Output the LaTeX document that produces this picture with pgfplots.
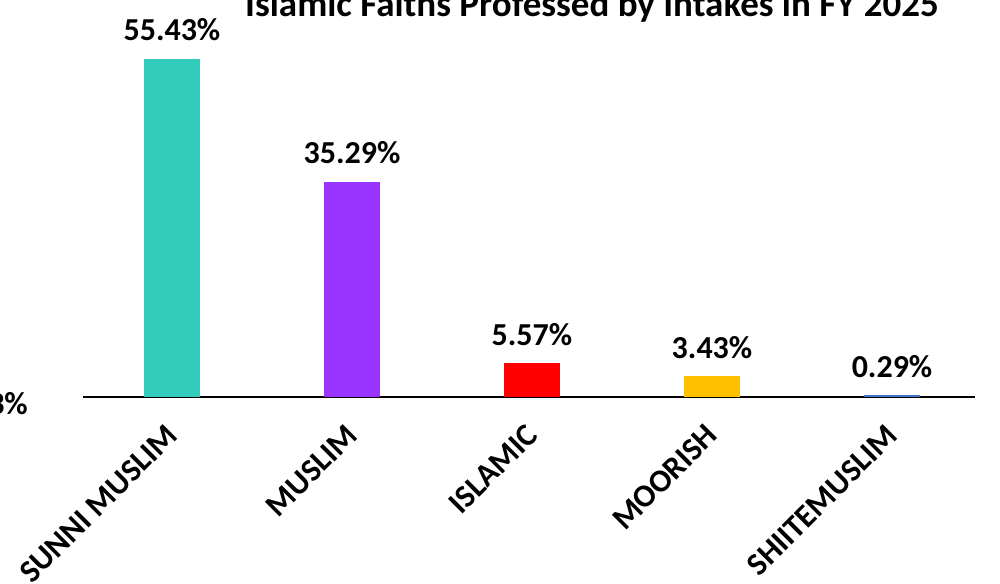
\documentclass[border=0pt]{standalone}
\usepackage{pgfplots}
\pgfplotsset{compat=1.18}
\usepackage{fontspec}
\setmainfont{Carlito}
\definecolor{cteal}{HTML}{33CCBB}
\definecolor{cpurple}{HTML}{9933FF}
\definecolor{cred}{HTML}{FF0000}
\definecolor{cgold}{HTML}{FFC000}
\definecolor{cblue}{HTML}{4472C4}
\begin{document}
\begin{tikzpicture}
\useasboundingbox (0,0) rectangle (1000pt,583pt);
\clip (0,0) rectangle (1000pt,583pt);
\begin{axis}[
  at={(83pt,186pt)}, anchor=south west,
  scale only axis, width=892pt, height=365.9pt,
  xmin=-0.494, xmax=4.461, ymin=0, ymax=60,
  axis x line*=bottom, axis y line=none,
  x axis line style={line width=1.8pt, black, -},
  xtick={0,1,2,3,4},
  xticklabels={SUNNI MUSLIM, MUSLIM, ISLAMIC, MOORISH, SHIITEMUSLIM},
  major tick length=0pt,
  xticklabel style={xshift=0pt, yshift=-33pt, rotate=45, anchor=east, inner sep=0pt,
    font=\bfseries\fontsize{32}{34}\selectfont},
  ybar, bar width=56pt, bar shift=0pt,
  /pgf/number format/assume math mode=true,
  nodes near coords={\pgfmathprintnumber[fixed,fixed zerofill,precision=2]{\pgfplotspointmeta}\%},
  every node near coord/.append style={anchor=base, yshift=18pt, inner sep=0pt, black,
    font=\bfseries\fontsize{32}{34}\selectfont},
  clip=false,
]
\addplot[fill=cteal, draw=none] coordinates {(0,55.43)};
\addplot[fill=cpurple, draw=none] coordinates {(1,35.29)};
\addplot[fill=cred, draw=none] coordinates {(2,5.57)};
\addplot[fill=cgold, draw=none] coordinates {(3,3.43)};
\addplot[fill=cblue, draw=none] coordinates {(4,0.29)};
\end{axis}
\node[anchor=base, font=\bfseries\fontsize{37}{38}\selectfont] at (592pt,566pt) {Islamic Faiths Professed by Intakes in FY 2025};
\node[anchor=base east, inner sep=0pt, font=\bfseries\fontsize{32}{34}\selectfont] at (28pt,168pt) {3\%};
\end{tikzpicture}
\end{document}
